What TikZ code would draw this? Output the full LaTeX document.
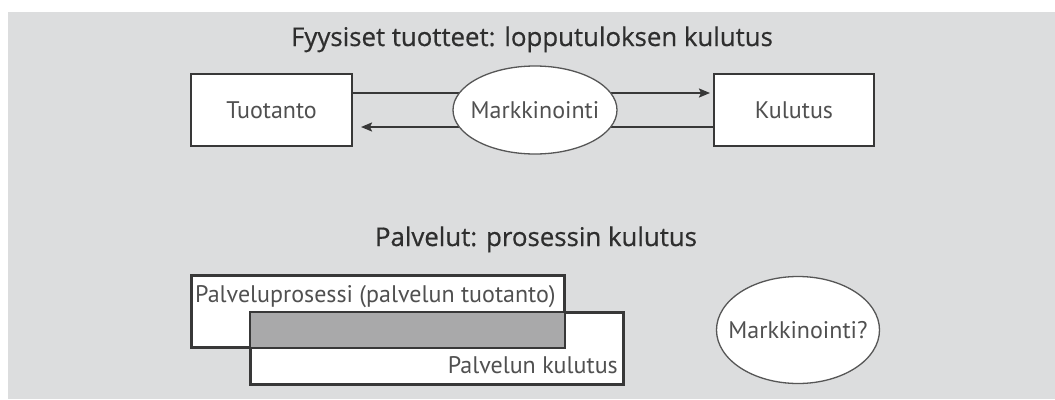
\documentclass[tikz,border=0pt]{standalone}
\usepackage{fontspec}
\setmainfont{PT Sans}
\newfontfamily\titlefont[FakeBold=0.6]{Open Sans}
\usetikzlibrary{arrows.meta,shapes.geometric}
\definecolor{bgcol}{HTML}{DCDDDE}
\definecolor{linecol}{HTML}{383838}
\definecolor{txtcol}{HTML}{505050}
\definecolor{titlecol}{HTML}{2E2E2E}
\definecolor{overlapcol}{HTML}{A9A9AA}
\tikzset{
  boxnode/.style={draw=linecol, line width=2pt, fill=white, rectangle, inner sep=0pt},
  ovalnode/.style={draw=linecol!85, line width=1.3pt, fill=white, ellipse, inner sep=0pt},
  bodytext/.style={text=txtcol, font=\fontsize{24}{28}\selectfont, inner sep=0pt},
  titletext/.style={text=titlecol, font=\titlefont\fontsize{25.8}{30}\selectfont, inner sep=0pt},
  flowline/.style={draw=linecol, line width=1.9pt, -{Stealth[length=11pt,width=9pt,inset=2pt]}}
}
\begin{document}
\begin{tikzpicture}[x=1pt,y=-1pt]
\useasboundingbox (0,0) rectangle (1055,399);
\fill[bgcol] (8,12) rectangle (1055,399);

% upper part
\node[titletext, anchor=base] (t1) at (532,46) {Fyysiset tuotteet: lopputuloksen kulutus};
\node[boxnode, minimum width=161pt, minimum height=72pt] (tuot) at (271.5,110) {};
\node[bodytext] (tuottxt) at (tuot.center) {Tuotanto};
\node[boxnode, minimum width=160pt, minimum height=72pt] (kul) at (794,110) {};
\node[bodytext] (kultxt) at (kul.center) {Kulutus};
\draw[flowline] ([yshift=17pt]tuot.east) -- ([xshift=-3pt,yshift=17pt]kul.west);
\draw[flowline] ([yshift=-17pt]kul.west) -- ([xshift=8pt,yshift=-17pt]tuot.east);
\node[ovalnode, minimum width=164pt, minimum height=88pt] (mark) at (535,110) {};
\node[bodytext] (marktxt) at (mark.center) {Markkinointi};

% lower part
\node[titletext, anchor=base] (t2) at (536,246) {Palvelut: prosessin kulutus};
\node[boxnode, minimum width=372pt, minimum height=71pt] (proc) at (378,311.5) {};
\node[boxnode, minimum width=372pt, minimum height=71pt] (cons) at (437,348.5) {};
\fill[overlapcol] (cons.north west) rectangle (proc.south east);
\draw[linecol, line width=2pt] (proc.north west) rectangle (proc.south east);
\draw[linecol, line width=2pt] (cons.north west) rectangle (cons.south east);
\node[bodytext, anchor=base west] (proctxt) at (195,302) {Palveluprosessi (palvelun tuotanto)};
\node[bodytext, anchor=base east] (constxt) at (618,373) {Palvelun kulutus};
\node[ovalnode, minimum width=163pt, minimum height=107pt] (mark2) at (798,330) {};
\node[bodytext] (mark2txt) at (mark2.center) {Markkinointi?};
\end{tikzpicture}
\end{document}
